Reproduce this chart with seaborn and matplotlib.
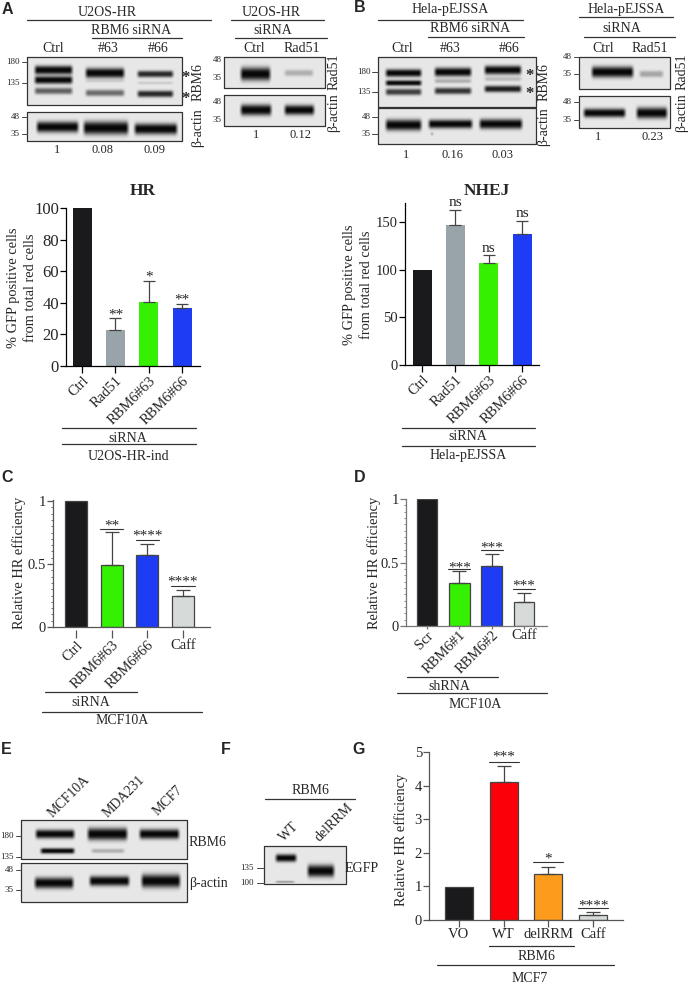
import matplotlib
matplotlib.use("Agg")
import matplotlib.pyplot as plt
import numpy as np
import pandas as pd
import seaborn as sns

W, H = 690, 984

BLACK = "#1a1a1c"
GREY = "#98a4a9"
GREEN = "#35f000"
BLUE = "#1e3cf4"
LIGHT = "#d6dad9"
RED = "#fb0008"
ORANGE = "#fd9b1c"

hr_labels = ["Ctrl", "Rad51", "RBM6#63", "RBM6#66"]
hr_values = [100, 22.5, 40.5, 36.5]
hr_err_top = [100, 30.5, 54, 39]
hr_sig = ["", "**", "*", "**"]
hr_sig_y = [0, 32.5, 56, 42]

nhej_labels = ["Ctrl", "Rad51", "RBM6#63", "RBM6#66"]
nhej_values = [100, 147, 107, 137]
nhej_err_top = [100, 163, 115.5, 151]
nhej_sig = ["", "ns", "ns", "ns"]
nhej_sig_y = [0, 171, 122, 159]

c_labels = ["Ctrl", "RBM6#63", "RBM6#66", "Caff"]
c_values = [1, 0.49, 0.57, 0.25]
c_err_top = [1, 0.755, 0.655, 0.29]
c_sig = ["", "**", "****", "****"]
c_sig_y = [0, 0.805, 0.72, 0.355]
c_sig_line = [None, 0.78, 0.69, 0.326]

d_labels = ["Scr", "RBM6#1", "RBM6#2", "Caff"]
d_values = [1, 0.335, 0.475, 0.19]
d_err_top = [1, 0.43, 0.565, 0.26]
d_sig = ["", "***", "***", "***"]
d_sig_y = [0, 0.46, 0.615, 0.315]
d_sig_line = [None, 0.446, 0.6, 0.295]

g_labels = ["VO", "WT", "delRRM", "Caff"]
g_values = [0.97, 4.1, 1.37, 0.15]
g_err_top = [0.97, 4.57, 1.57, 0.23]
g_sig = ["", "***", "*", "****"]
g_sig_y = [0, 4.84, 1.82, 0.41]
g_sig_line = [None, 4.71, 1.73, 0.35]

# blots: box in pixels, then bands as x0, x1, y, half height, darkness
blots = [
    ((27, 182, 57, 105), [(33, 74, 70, 4, 1), (33, 74, 80, 3.5, 1), (33, 74, 91, 3, .6),
                          (84, 126, 73, 4.5, 1), (84, 126, 81, 1.5, .1), (84, 126, 93, 3, .55),
                          (136, 175, 74, 3, .85), (136, 175, 83, 1.5, .12), (136, 175, 94, 3, .85)]),
    ((27, 182, 112, 141), [(35, 80, 127, 5, 1), (82, 130, 128, 6, 1), (133, 179, 129, 5, 1)]),
    ((224, 325, 57, 88), [(239, 272, 74, 6, 1), (283, 315, 73, 3, .25)]),
    ((224, 325, 95, 126), [(239, 273, 110, 5, 1), (283, 316, 110, 4.5, 1)]),
    ((378, 536, 57, 107), [(384, 423, 73, 3.5, 1), (384, 423, 83, 2.5, 1), (384, 423, 92, 3, .75),
                           (433, 473, 72, 4, 1), (433, 473, 81, 2, .25), (433, 473, 91, 3, .8),
                           (483, 523, 70, 4, 1), (483, 523, 79, 2, .2), (483, 523, 89, 3, .9)]),
    ((378, 536, 108, 144), [(384, 423, 125, 5, 1), (427, 474, 124, 4, 1), (478, 524, 124, 4.5, 1),
                            (430, 434, 134, 1.5, .9)]),
    ((579, 670, 57, 89), [(590, 635, 72, 5, 1), (638, 665, 74, 3, .3)]),
    ((579, 670, 96, 128), [(582, 627, 113, 4, 1), (635, 669, 113, 5, 1)]),
    ((21, 187, 820, 859), [(34, 76, 834, 4, 1), (86, 129, 834, 5.5, 1), (138, 181, 834, 4.5, 1),
                           (39, 76, 851, 2.5, 1), (90, 126, 851, 2, .25)]),
    ((21, 187, 863, 902), [(33, 75, 883, 5, 1), (88, 131, 881, 4.5, 1), (140, 182, 881, 6, 1)]),
    ((264, 346, 846, 884), [(274, 298, 858, 3.5, 1), (306, 336, 871, 5.5, 1), (274, 296, 882, 1, .35)]),
]

# text: x, y, string, size, rotation
blot_text = [
    (107, 12, "U2OS-HR", 10, 0), (131, 30, "RBM6 siRNA", 10, 0), (53, 48, "Ctrl", 10, 0),
    (108, 48, "#63", 10, 0), (158, 48, "#66", 10, 0), (198, 82, "RBM6", 10, 90),
    (198, 128, "β-actin", 10, 90), (57, 150, "1", 9, 0), (103, 150, "0.08", 9, 0),
    (154, 150, "0.09", 9, 0),
    (271, 12, "U2OS-HR", 10, 0), (273, 31, "siRNA", 10, 0), (254, 48, "Ctrl", 10, 0),
    (302, 48, "Rad51", 10, 0), (334, 72, "Rad51", 10, 90), (334, 113, "β-actin", 10, 90),
    (256, 135, "1", 9, 0), (300, 135, "0.12", 9, 0),
    (450, 10, "Hela-pEJSSA", 10, 0), (470, 29, "RBM6 siRNA", 10, 0), (402, 49, "Ctrl", 10, 0),
    (450, 49, "#63", 10, 0), (509, 49, "#66", 10, 0), (544, 82, "RBM6", 10, 90),
    (544, 127, "β-actin", 10, 90), (406, 155, "1", 9, 0), (453, 155, "0.16", 9, 0),
    (503, 155, "0.03", 9, 0),
    (626, 10, "Hela-pEJSSA", 10, 0), (622, 29, "siRNA", 10, 0), (603, 49, "Ctrl", 10, 0),
    (650, 49, "Rad51", 10, 0), (682, 72, "Rad51", 10, 90), (682, 113, "β-actin", 10, 90),
    (598, 137, "1", 9, 0), (653, 137, "0.23", 9, 0),
    (128, 438, "siRNA", 10, 0), (128, 457, "U2OS-HR-ind", 10, 0),
    (468, 437, "siRNA", 10, 0), (468, 455, "Hela-pEJSSA", 10, 0),
    (91, 702, "siRNA", 10, 0), (122, 720, "MCF10A", 10, 0),
    (449, 687, "shRNA", 10, 0), (475, 704, "MCF10A", 10, 0),
    (69, 797, "MCF10A", 10, 45), (124, 797, "MDA231", 10, 45), (168, 801, "MCF7", 10, 45),
    (207, 843, "RBM6", 10, 0), (208, 883, "β-actin", 10, 0),
    (310, 791, "RBM6", 10, 0), (289, 832, "WT", 10, 45), (334, 823, "delRRM", 10, 45),
    (362, 869, "EGFP", 10, 0),
    (536, 957, "RBM6", 10, 0), (530, 978, "MCF7", 10, 0),
]

# mw markers: label right edge, y, tick x0, tick x1
mw_marks = [
    (20, 62, "180", 22, 27), (20, 83, "135", 22, 27), (20, 117, "48", 22, 27), (20, 134, "35", 22, 27),
    (222, 60, "48", 224, 224), (222, 78, "35", 224, 224), (222, 102, "48", 224, 224), (222, 120, "35", 224, 224),
    (371, 72, "180", 372, 378), (371, 92, "135", 372, 378), (371, 117, "48", 372, 378), (371, 134, "35", 372, 378),
    (572, 57, "48", 574, 579), (572, 74, "35", 574, 579), (572, 102, "48", 574, 579), (572, 120, "35", 574, 579),
    (14, 836, "180", 16, 21), (14, 857, "135", 16, 21), (14, 870, "48", 16, 21), (14, 890, "35", 16, 21),
    (254, 868, "135", 257, 264), (254, 883, "100", 257, 264),
]

rules = [
    (27, 211, 20), (92, 182, 38), (231, 324, 20), (235, 327, 38),
    (378, 523, 20), (428, 524, 37), (579, 673, 17), (584, 675, 37),
    (62, 196, 428), (62, 196, 444), (402, 535, 428), (402, 535, 446),
    (45, 137, 692), (42, 202, 712), (407, 498, 677), (397, 547, 693),
    (265, 355, 799), (489, 574, 946), (437, 614, 965),
]

panel_letters = [("A", 7, 9), ("B", 360, 8), ("C", 7, 477), ("D", 360, 477),
                 ("E", 6, 749), ("F", 226, 749), ("G", 359, 749)]
star_marks = [(185, 78), (185, 99), (530, 76), (530, 94)]

sns.set_theme(style="ticks")
plt.rcParams["font.family"] = ["Liberation Serif", "DejaVu Sans"]
plt.rcParams["axes.facecolor"] = "none"

fig = plt.figure(figsize=(W / 100, H / 100), dpi=100)
over = fig.add_axes([0, 0, 1, 1])
over.axis("off")


def draw_blot(box, bands):
    x0, x1, y0, y1 = box
    xs = np.linspace(x0, x1, (x1 - x0) * 3)
    ys = np.linspace(y0, y1, (y1 - y0) * 3)
    xx, yy = np.meshgrid(xs, ys)
    img = np.full(xx.shape, 0.91)
    for bx0, bx1, by, bh, dark in bands:
        across = np.clip((xx - bx0) / 4, 0, 1) * np.clip((bx1 - xx) / 4, 0, 1)
        along = np.exp(-np.abs((yy - by) / (bh * 1.1)) ** 2.5)
        img = img * (1 - 0.97 * dark * across * along)
    over.imshow(img, cmap="gray", vmin=0, vmax=1, extent=(x0, x1, y1, y0), aspect="auto",
                interpolation="bilinear", zorder=1)
    over.plot([x0, x1, x1, x0, x0], [y0, y0, y1, y1, y0], color="#333333", lw=0.9, zorder=2)


def bar_panel(box, xlim, ylim, width, labels, values, err_top, colors, yticks, yticklabels,
              sig, sig_y, sig_line=None, minor=None, axis_color="black", edge=None,
              ylabel=None, label_x=None, rot=45, flat=(), offset_ticks=False,
              ytick_size=10.5, xtick_len=5, xtick_pad=1):
    left, right, top, bottom = box
    ax = fig.add_axes([left / W, 1 - bottom / H, (right - left) / W, (bottom - top) / H])
    df = pd.DataFrame({"name": labels, "value": values})
    sns.barplot(data=df, x="name", y="value", hue="name", palette=colors, legend=False,
                width=width, edgecolor=edge, linewidth=0.9 if edge else 0, ax=ax, saturation=1)
    pos = np.arange(len(labels))
    ax.errorbar(pos[1:], values[1:], yerr=[np.zeros(3), np.array(err_top[1:]) - np.array(values[1:])],
                fmt="none", ecolor="#444444", elinewidth=0.9, capsize=width * 8, capthick=0.9, zorder=1)
    ax.set_xlim(*xlim)
    ax.set_ylim(*ylim)
    ax.set_yticks(yticks)
    ax.set_yticklabels(yticklabels, fontsize=ytick_size)
    if minor is not None:
        ax.set_yticks(minor, minor=True)
        ax.tick_params(axis="y", which="minor", length=1.5, width=0.6, color=axis_color)
    ax.set_xlabel("")
    ax.set_ylabel("")
    sns.despine(ax=ax)
    for name in ("left", "bottom"):
        ax.spines[name].set_color(axis_color)
        ax.spines[name].set_linewidth(0.9)
    ax.tick_params(axis="y", which="major", length=4, width=0.9, color=axis_color, pad=1)
    if offset_ticks:
        ax.tick_params(axis="x", length=0, labelbottom=False)
        tick_ax = ax.secondary_xaxis(-0.025)
        tick_ax.spines["bottom"].set_visible(False)
    else:
        tick_ax = ax
    tick_ax.set_xticks(pos)
    tick_ax.set_xticklabels(labels, fontsize=10.5)
    tick_ax.tick_params(axis="x", length=xtick_len, width=0.9, color=axis_color, pad=xtick_pad)
    for i, lab in enumerate(tick_ax.get_xticklabels()):
        if i in flat or rot == 0:
            lab.set_rotation(0)
            lab.set_ha("center")
        else:
            lab.set_rotation(rot)
            lab.set_ha("right")
            lab.set_rotation_mode("anchor")
    for i in pos:
        if sig[i]:
            ax.text(i, sig_y[i], sig[i], ha="center", va="center", fontsize=11, clip_on=False)
        if sig_line and sig_line[i] is not None:
            ax.plot([i - width / 2 - 0.02, i + width / 2 + 0.02], [sig_line[i]] * 2, color="#333333",
                    lw=0.8, clip_on=False)
    if ylabel:
        for x, y, txt in zip(label_x, ylabel[1], ylabel[0]):
            over.text(x, y, txt, rotation=90, ha="center", va="center", fontsize=10.4)
    return ax


for box, bands in blots:
    draw_blot(box, bands)

bar_panel((66, 200, 208, 366), (-0.48, 3.53), (0, 100), 0.57, hr_labels, hr_values, hr_err_top,
          [BLACK, GREY, GREEN, BLUE], [0, 20, 40, 60, 80, 100], ["0", "20", "40", "60", "80", "100"],
          hr_sig, hr_sig_y, ylabel=(["% GFP positive cells", "from total red cells"], [288, 288]),
          label_x=[14, 31], ytick_size=12)
bar_panel((405, 539, 203, 365), (-0.51, 3.51), (0, 170), 0.57, nhej_labels, nhej_values, nhej_err_top,
          [BLACK, GREY, GREEN, BLUE], [0, 50, 100, 150], ["0", "50", "100", "150"],
          nhej_sig, nhej_sig_y, ylabel=(["% GFP positive cells", "from total red cells"], [285, 285]),
          label_x=[350, 367])
bar_panel((53, 210, 500, 627), (-0.645, 3.76), (0, 1.008), 0.62, c_labels, c_values, c_err_top,
          [BLACK, GREEN, BLUE, LIGHT], [0, 0.5, 1], ["0", "0.5", "1"],
          c_sig, c_sig_y, c_sig_line, minor=np.arange(0, 1.01, 0.05), axis_color="#555555", edge="#444444",
          ylabel=(["Relative HR efficiency"], [563]), label_x=[19], flat=(3,), offset_ticks=True,
          xtick_len=6, xtick_pad=0)
bar_panel((406, 547, 499, 626), (-0.65, 3.71), (0, 1), 0.64, d_labels, d_values, d_err_top,
          [BLACK, GREEN, BLUE, LIGHT], [0, 0.5, 1], ["0", "0.5", "1"],
          d_sig, d_sig_y, d_sig_line, minor=np.arange(0, 1.01, 0.05), axis_color="#777777", edge="#444444",
          ylabel=(["Relative HR efficiency"], [563]), label_x=[374], flat=(3,), xtick_len=2, xtick_pad=0)
bar_panel((429, 623, 752, 920), (-0.67, 3.67), (0, 5), 0.63, g_labels, g_values, g_err_top,
          [BLACK, RED, ORANGE, LIGHT], [0, 1, 2, 3, 4, 5], ["0", "1", "2", "3", "4", "5"],
          g_sig, g_sig_y, g_sig_line, axis_color="#555555", edge="#444444",
          ylabel=(["Relative HR efficiency"], [840]), label_x=[401], rot=0)

over.text(143, 191, "HR", ha="center", va="center", fontsize=12.5, fontweight="bold")
over.text(487, 191, "NHEJ", ha="center", va="center", fontsize=12.5, fontweight="bold")

for x, y, txt, size, rotation in blot_text:
    over.text(x, y, txt, ha="center", va="center", fontsize=size, rotation=rotation,
              rotation_mode="anchor" if rotation == 45 else "default")
for x, y, txt, t0, t1 in mw_marks:
    over.text(x, y, txt, ha="right", va="center", fontsize=6.5)
    over.plot([t0, t1], [y, y], color="#444444", lw=0.7)
for x0, x1, y in rules:
    over.plot([x0, x1], [y, y], color="#333333", lw=0.9)
for x, y in star_marks:
    over.text(x, y, "*", ha="center", va="center", fontsize=12, fontweight="bold")
for letter, x, y in panel_letters:
    over.text(x, y, letter, ha="center", va="center", fontsize=11.5, fontweight="bold",
              family="Liberation Sans")

over.set_xlim(0, W)
over.set_ylim(H, 0)
fig.savefig("out.png", dpi=100)
